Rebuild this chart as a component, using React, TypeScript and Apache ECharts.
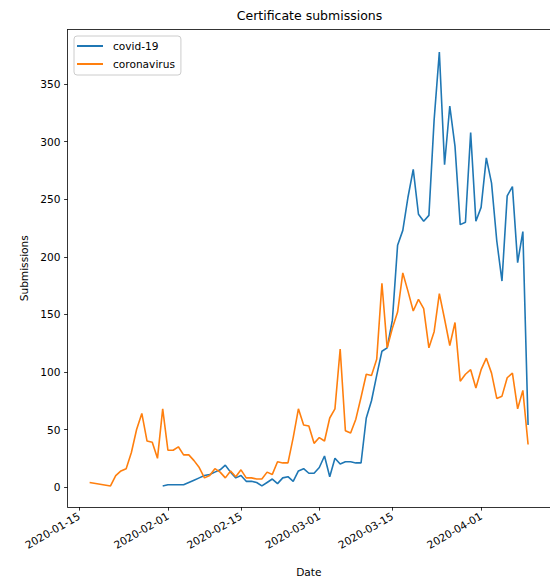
import React, { useEffect, useRef } from "react";
import * as echarts from "echarts";

const dates: string[] = [
  "2020-01-17", "2020-01-21", "2020-01-22", "2020-01-23", "2020-01-24", "2020-01-25", "2020-01-26",
  "2020-01-27", "2020-01-28", "2020-01-29", "2020-01-30", "2020-01-31",
  "2020-02-01", "2020-02-02", "2020-02-03", "2020-02-04", "2020-02-05", "2020-02-06", "2020-02-07",
  "2020-02-08", "2020-02-09", "2020-02-10", "2020-02-11", "2020-02-12", "2020-02-13", "2020-02-14",
  "2020-02-15", "2020-02-16", "2020-02-17", "2020-02-18", "2020-02-19", "2020-02-20", "2020-02-21",
  "2020-02-22", "2020-02-23", "2020-02-24", "2020-02-25", "2020-02-26", "2020-02-27", "2020-02-28",
  "2020-02-29",
  "2020-03-01", "2020-03-02", "2020-03-03", "2020-03-04", "2020-03-05", "2020-03-06", "2020-03-07",
  "2020-03-08", "2020-03-09", "2020-03-10", "2020-03-11", "2020-03-12", "2020-03-13", "2020-03-14",
  "2020-03-15", "2020-03-16", "2020-03-17", "2020-03-18", "2020-03-19", "2020-03-20", "2020-03-21",
  "2020-03-22", "2020-03-23", "2020-03-24", "2020-03-25", "2020-03-26", "2020-03-27", "2020-03-28",
  "2020-03-29", "2020-03-30", "2020-03-31",
  "2020-04-01", "2020-04-02", "2020-04-03", "2020-04-04", "2020-04-05", "2020-04-06", "2020-04-07",
  "2020-04-08", "2020-04-09", "2020-04-10",
];

const covid19: (number | null)[] = [
  null, null, null, null, null, null, null, null, null, null, null, 1,
  2, 2, 2, 2, 4, 6, 8, 10, 11, 13, 15, 19, 13, 8,
  10, 5, 5, 4, 1, 4, 7, 3, 8, 9, 5, 14, 16, 12, 12,
  17, 27, 9, 25, 20, 22, 22, 21, 21, 60, 75, 97, 118, 121,
  145, 210, 223, 252, 276, 237, 231, 236, 319, 378, 280, 331, 296, 228,
  230, 308, 231,
  243, 286, 264, 214, 179, 253, 261, 195, 222, 54,
];

const coronavirus: number[] = [
  4, 1, 10, 14, 16, 30, 50, 64, 40, 39, 25, 68,
  32, 32, 35, 28, 28, 23, 17, 8, 10, 16, 13, 8, 14, 9,
  15, 8, 8, 7, 7, 13, 11, 22, 21, 21, 43, 68, 54, 53, 38,
  43, 40, 60, 68, 120, 49, 47, 59, 78, 98, 97, 111, 177, 121,
  138, 152, 186, 170, 153, 163, 155, 121, 135, 168, 146, 123, 143, 92,
  98, 102, 86,
  102, 112, 99, 77, 79, 95, 99, 68, 84, 37,
];

const xTickLabels: string[] = ["2020-01-15", "2020-02-01", "2020-02-15", "2020-03-01", "2020-03-15", "2020-04-01"];
const yTickValues: number[] = [0, 50, 100, 150, 200, 250, 300, 350];

const ts = (s: string) => {
  const [y, m, d] = s.split("-").map(Number);
  return Date.UTC(y, m - 1, d);
};
const pad2 = (n: number) => (n < 10 ? "0" + n : "" + n);
const fmtDate = (v: number) => {
  const d = new Date(v);
  return `${d.getUTCFullYear()}-${pad2(d.getUTCMonth() + 1)}-${pad2(d.getUTCDate())}`;
};

const FONT = "DejaVu Sans";
const SPINE = { show: true, onZero: false, lineStyle: { color: "#000", width: 0.8 } };

export default function App() {
  const ref = useRef<HTMLDivElement>(null);
  useEffect(() => {
    if (!ref.current) return;
    const chart = echarts.init(ref.current, undefined, { renderer: "svg" });
    const first = ts(dates[0]);
    const last = ts(dates[dates.length - 1]);
    const span = last - first;
    const xMin = first - 0.05 * span;
    const xMax = last + 0.05 * span;
    const yMin = -17.3;
    const yMax = 397.5;
    const covidData = dates
      .map((d, i) => [ts(d), covid19[i]] as [number, number | null])
      .filter((p) => p[1] !== null);
    const coronaData = dates.map((d, i) => [ts(d), coronavirus[i]]);
    const xTicks = xTickLabels.map(ts);
    chart.setOption({
      animation: false,
      backgroundColor: "#ffffff",
      textStyle: { fontFamily: FONT },
      title: {
        text: "Certificate submissions",
        left: 309.5,
        textAlign: "center",
        top: 9,
        padding: 0,
        textStyle: { fontFamily: FONT, fontSize: 12.5, fontWeight: "normal", color: "#000" },
      },
      legend: {
        orient: "vertical",
        left: 74,
        top: 36,
        padding: [4, 6, 5, 3],
        itemWidth: 31,
        itemHeight: 2,
        itemGap: 6,
        icon: "path://M0,0H26V2H0ZM31,0L31,2",
        backgroundColor: "rgba(255,255,255,0.8)",
        borderColor: "#cccccc",
        borderWidth: 1,
        borderRadius: 3,
        textStyle: { fontFamily: FONT, fontSize: 10.6, color: "#000", lineHeight: 12 },
        data: ["covid-19", "coronavirus"],
      },
      grid: {
        left: 67.7,
        top: 29.5,
        width: 483.5,
        height: 480.5,
        containLabel: false,
      },
      xAxis: [
        {
          type: "value",
          min: xMin,
          max: xMax,
          name: "Date",
          nameLocation: "middle",
          nameGap: 59,
          nameTextStyle: { fontFamily: FONT, fontSize: 10.6, color: "#000" },
          axisLine: SPINE,
          splitLine: { show: false },
          axisTick: {
            show: true,
            length: 3.6,
            lineStyle: { color: "#000", width: 0.8 },
            customValues: xTicks,
          },
          axisLabel: {
            show: true,
            rotate: 30,
            margin: 8,
            color: "#000",
            fontFamily: FONT,
            fontSize: 10.6,
            customValues: xTicks,
            formatter: (v: number) => fmtDate(v),
          },
        },
        {
          type: "value",
          position: "top",
          min: xMin,
          max: xMax,
          axisLine: SPINE,
          axisTick: { show: false },
          axisLabel: { show: false },
          splitLine: { show: false },
        },
      ],
      yAxis: [
        {
          type: "value",
          min: yMin,
          max: yMax,
          name: "Submissions",
          nameLocation: "middle",
          nameRotate: 90,
          nameGap: 37,
          nameTextStyle: { fontFamily: FONT, fontSize: 10.6, color: "#000" },
          axisLine: SPINE,
          splitLine: { show: false },
          axisTick: {
            show: true,
            length: 3.6,
            lineStyle: { color: "#000", width: 0.8 },
            customValues: yTickValues,
          },
          axisLabel: {
            show: true,
            margin: 7.2,
            color: "#000",
            fontFamily: FONT,
            fontSize: 10.6,
            customValues: yTickValues,
          },
        },
        {
          type: "value",
          position: "right",
          min: yMin,
          max: yMax,
          axisLine: SPINE,
          axisTick: { show: false },
          axisLabel: { show: false },
          splitLine: { show: false },
        },
      ],
      series: [
        {
          name: "covid-19",
          type: "line",
          data: covidData,
          showSymbol: false,
          symbol: "none",
          lineStyle: { color: "#1f77b4", width: 1.6 },
          itemStyle: { color: "#1f77b4" },
        },
        {
          name: "coronavirus",
          type: "line",
          data: coronaData,
          showSymbol: false,
          symbol: "none",
          lineStyle: { color: "#ff7f0e", width: 1.6 },
          itemStyle: { color: "#ff7f0e" },
        },
      ],
    });
    return () => chart.dispose();
  }, []);
  return (
    <div
      ref={ref}
      style={{ position: "absolute", left: 0, top: 0, width: 550, height: 582, background: "#fff" }}
    />
  );
}
